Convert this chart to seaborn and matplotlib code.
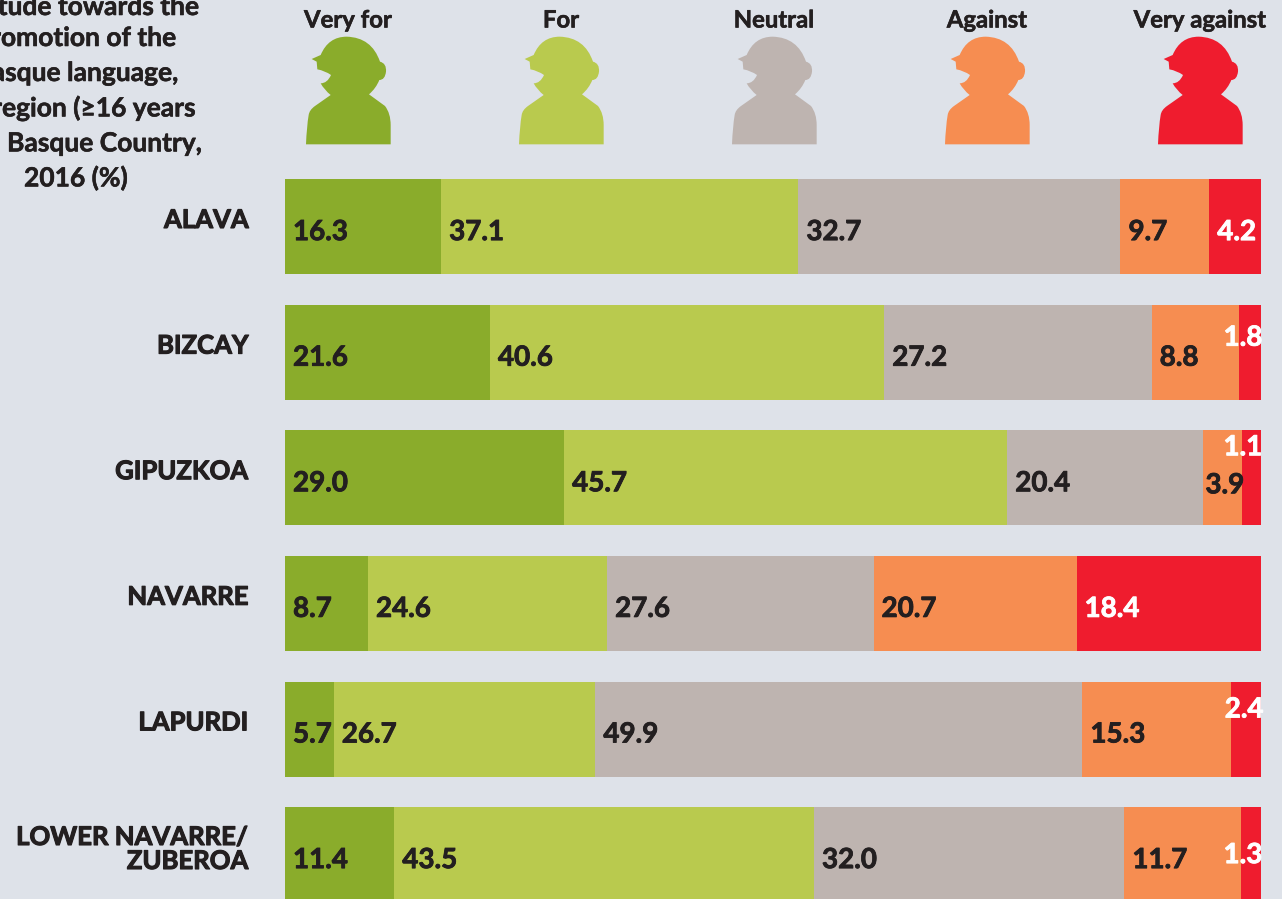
import matplotlib
matplotlib.use("Agg")
import matplotlib.patheffects as pe
import matplotlib.pyplot as plt
import pandas as pd
import seaborn as sns
from matplotlib.patches import PathPatch
from matplotlib.path import Path

regions = ["ALAVA", "BIZCAY", "GIPUZKOA", "NAVARRE", "LAPURDI", "LOWER NAVARRE/\nZUBEROA"]
attitudes = ["Very for", "For", "Neutral", "Against", "Very against"]

# figures printed on the segments
very_for = [16.3, 21.6, 29.0, 8.7, 5.7, 11.4]
for_ = [37.1, 40.6, 45.7, 24.6, 26.7, 43.5]
neutral = [32.7, 27.2, 20.4, 27.6, 49.9, 32.0]
against = [9.7, 8.8, 3.9, 20.7, 15.3, 11.7]
very_against = [4.2, 1.8, 1.1, 18.4, 2.4, 1.3]

# segment lengths as drawn in the picture, which differ a little from the printed figures
very_for_len = [16.0, 21.0, 28.6, 8.5, 5.0, 11.2]
for_len = [36.6, 40.4, 45.4, 24.5, 26.8, 43.0]
neutral_len = [33.0, 27.4, 20.1, 27.3, 49.9, 31.8]
against_len = [9.1, 8.9, 4.0, 20.8, 15.2, 11.9]
very_against_len = [5.3, 2.3, 1.9, 18.9, 3.1, 2.1]

colors = ["#8AAC2B", "#B9CA4E", "#BEB4B0", "#F68D51", "#EF1C2E"]
title_lines = ["Attitude towards the", "promotion of the", "Basque language,",
               "by region (≥16 years", "old), Basque Country,", "2016 (%)"]

BG = "#DEE2E9"
INK = "#231F20"
W, H = 1282, 899

sns.set_theme(style="white")
plt.rcParams["font.family"] = ["Lato", "DejaVu Sans"]
plt.rcParams["font.weight"] = "bold"


def heavy(width, color=INK):
    return [pe.withStroke(linewidth=width, foreground=color)]


labels = pd.DataFrame(dict(zip(attitudes, [very_for, for_, neutral, against, very_against])), index=regions)
lengths = pd.DataFrame(dict(zip(attitudes, [very_for_len, for_len, neutral_len, against_len, very_against_len])),
                       index=regions)
cum = lengths.cumsum(axis=1)

fig = plt.figure(figsize=(W / 100, H / 100), dpi=100, facecolor=BG)
ax = fig.add_axes([285 / W, 0, 976 / W, 1], facecolor="none")

# stacked bars: longest cumulative bar first, shorter ones on top
for att, col in reversed(list(zip(attitudes, colors))):
    sns.barplot(x=cum[att].values, y=regions, order=regions, color=col, saturation=1,
                width=95 / 125.6, ax=ax, orient="y", linewidth=0)

ax.set_xlim(0, 100)
ax.set_ylim((H - 226.6) / 125.6, -226.6 / 125.6)
ax.axis("off")

# pixel offsets from (segment start + 8 px, bar centre + 3 px) for cramped labels
special = {(1, 4): (-23, -20), (2, 4): (-27, -36), (2, 3): (-6, 2),
           (4, 4): (-14, -25), (5, 4): (-25, -5)}
for i, region in enumerate(regions):
    for j, att in enumerate(attitudes):
        left = cum.iloc[i, j] - lengths.iloc[i, j]
        dx, dy = special.get((i, j), (0, 0))
        col = "white" if j == 4 else INK
        ax.annotate(f"{labels.iloc[i, j]:.1f}", (left, i),
                    xytext=((8 + dx) * 0.72, -(3 + dy) * 0.72), textcoords="offset points",
                    ha="left", va="center_baseline", fontsize=20, color=col,
                    annotation_clip=False, path_effects=heavy(0.6, col))

# overlay in pixel coordinates for header, title, region names and icons
ov = fig.add_axes([0, 0, 1, 1], facecolor="none")
ov.set_xlim(0, W)
ov.set_ylim(H, 0)
ov.axis("off")

for y, line in zip([7, 38, 73, 108, 143, 178], title_lines):
    ov.text(76, y, line, ha="center", va="center", fontsize=19, color=INK, path_effects=heavy(0.4))

for i, region in enumerate(regions):
    ov.text(249, 220 + 125.6 * i + (1 if i == 5 else 0), region, ha="right", va="center", fontsize=18.5,
            color=INK, linespacing=1.0, multialignment="right", path_effects=heavy(0.8))

M, L, C, Z = Path.MOVETO, Path.LINETO, Path.CURVE3, Path.CLOSEPOLY
icon = [(M, 48, 433),
        (C, 50, 380), (C, 56, 345),
        (C, 58, 330), (C, 75, 318),
        (L, 122, 285),
        (C, 103, 270), (C, 92, 250),
        (C, 112, 250), (C, 123, 225),
        (C, 105, 212), (C, 82, 208),
        (L, 80, 185), (L, 65, 177), (L, 92, 165),
        (C, 115, 110), (C, 170, 110),
        (C, 245, 112), (C, 270, 185),
        (C, 290, 190), (C, 288, 215),
        (C, 285, 240), (C, 268, 240),
        (C, 258, 265), (C, 237, 283),
        (L, 285, 318),
        (C, 302, 340), (C, 302, 375),
        (L, 302, 433), (Z, 48, 433)]
codes = [c for c, _, _ in icon]
header_x = [348, 561, 774, 987, 1200]
for k, (att, col) in enumerate(zip(attitudes, colors)):
    verts = [(290 + 213 * k + x / 3, y / 3) for _, x, y in icon]
    ov.add_patch(PathPatch(Path(verts, codes), facecolor=col, edgecolor="none"))
    ov.text(header_x[k], 20, att, ha="center", va="center", fontsize=17.2, color=INK, path_effects=heavy(0.4))

fig.savefig("out.png", dpi=100, facecolor=BG)
